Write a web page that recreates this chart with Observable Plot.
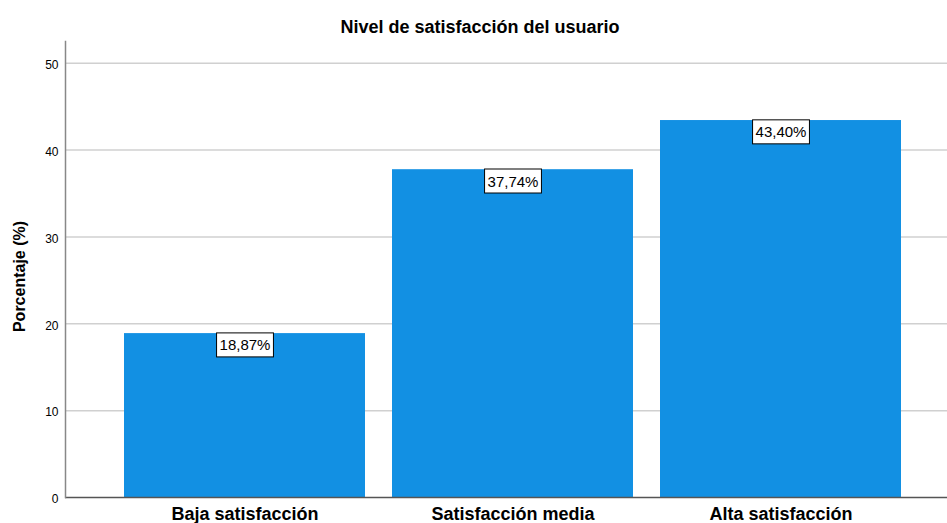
<!DOCTYPE html>
<html>
<head>
<meta charset="utf-8">
<script src="https://cdn.jsdelivr.net/npm/d3@7"></script>
<script src="https://cdn.jsdelivr.net/npm/@observablehq/plot@0.6"></script>
<style>
  html, body { margin: 0; padding: 0; background: #fff; overflow: hidden; }
  #title { width: 947px; height: 40px; box-sizing: border-box; padding-top: 17px; padding-left: 13px;
    text-align: center; font: bold 18px "Liberation Sans", Arial, sans-serif; line-height: 20px; color: #000; }
  svg { display: block; }
</style>
</head>
<body>
<div id="title">Nivel de satisfacción del usuario</div>
<div id="chart"></div>
<script>
const categories = ["Baja satisfacción", "Satisfacción media", "Alta satisfacción"];
const percentages = [18.87, 37.74, 43.40];
const valueLabels = ["18,87%", "37,74%", "43,40%"];
const yTicks = [0, 10, 20, 30, 40, 50];
const yLabel = "Porcentaje (%)";

const data = categories.map((c, i) => ({cat: c, pct: percentages[i], label: valueLabels[i]}));
const font = '"Liberation Sans", Arial, sans-serif';

const chart = Plot.plot({
  width: 947,
  height: 483,
  marginTop: 1,
  marginBottom: 26,
  marginLeft: 65,
  marginRight: 0,
  style: {fontFamily: font, background: "#fff", overflow: "hidden"},
  x: {domain: categories, range: [65, 961], paddingInner: 0.1, paddingOuter: 0.2155},
  y: {domain: [0, 52.5]},
  marks: [
    Plot.gridY(yTicks.filter(d => d > 0), {stroke: "#d0d0d0", strokeOpacity: 1, strokeWidth: 1.5}),
    Plot.barY(data, {x: "cat", y: "pct", fill: "#1290e3"}),
    Plot.ruleY([0], {stroke: "#555", strokeWidth: 1.5}),
    Plot.frame({anchor: "left", stroke: "#888", strokeWidth: 1.5}),
    Plot.axisY({ticks: yTicks, tickSize: 0, tickPadding: 7, fontSize: 12, label: null, dy: 2, fill: "#000"}),
    Plot.axisX({tickSize: 0, tickPadding: 10, fontSize: 18, fontWeight: "bold", label: null, fill: "#000"}),
    Plot.text([yLabel], {frameAnchor: "left", text: d => d, rotate: -90, dx: -46, dy: 7,
      fontSize: 16, fontWeight: "bold", fill: "#000", textAnchor: "middle", lineAnchor: "middle"}),
    Plot.text(data, {x: "cat", y: "pct", text: "label", dy: 12, fontSize: 15, fill: "#000",
      lineAnchor: "middle"})
  ]
});
document.getElementById("chart").appendChild(chart);

// add white boxes with black border behind the value labels
const padX = 3, padY = 3.5;
chart.querySelectorAll("text").forEach(t => {
  if (!valueLabels.includes(t.textContent.trim())) return;
  const b = t.getBBox();
  const r = document.createElementNS("http://www.w3.org/2000/svg", "rect");
  r.setAttribute("x", b.x - padX);
  r.setAttribute("y", b.y - padY);
  r.setAttribute("width", b.width + 2 * padX);
  r.setAttribute("height", b.height + 2 * padY);
  r.setAttribute("fill", "#fff");
  r.setAttribute("stroke", "#000");
  r.setAttribute("stroke-width", 1);
  const tr = t.getAttribute("transform");
  if (tr) r.setAttribute("transform", tr);
  t.parentNode.insertBefore(r, t);
});
</script>
</body>
</html>
